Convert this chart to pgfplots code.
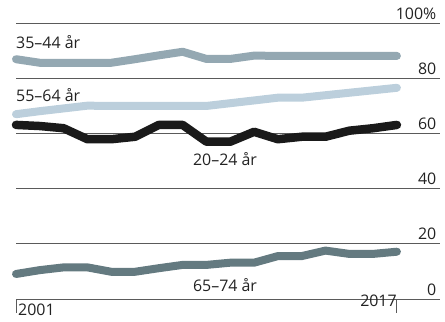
\documentclass[border=0pt]{standalone}
\usepackage{pgfplots}
\pgfplotsset{compat=1.18}
\usepackage{fontspec}
\setmainfont{Open Sans}

\definecolor{txt}{HTML}{222222}
\definecolor{gridc}{HTML}{5A5A5A}
\definecolor{c3544}{RGB}{148,168,178}
\definecolor{c5564}{RGB}{188,207,220}
\definecolor{c2024}{HTML}{1A1A1A}
\definecolor{c6574}{RGB}{100,122,128}

\begin{document}
\begin{tikzpicture}
\begin{axis}[
    scale only axis,
    width=424bp, height=275bp,
    xmin=2001, xmax=2018.81,
    ymin=0, ymax=100,
    axis line style={draw=none},
    font=\fontsize{16}{19}\selectfont\color{txt},
    /pgf/number format/assume math mode=true,
    ytick={0,20,40,60,80,100},
    yticklabels={0,20,40,60,80,100\%},
    yticklabel pos=right,
    ymajorgrids,
    grid style={gridc, line width=1bp},
    y tick style={draw=none},
    yticklabel style={anchor=base east, inner sep=0pt, xshift=-17.5bp, yshift=4bp},
    xtick={2001},
    xticklabels={2001},
    xtick pos=bottom,
    tick align=outside,
    major tick length=14bp,
    x tick style={gridc, line width=1bp},
    xticklabel style={anchor=north west, inner sep=0pt, xshift=2bp, yshift=9bp},
    extra x ticks={2017},
    extra x tick labels={2017},
    extra x tick style={xticklabel style={anchor=north east, inner sep=0pt, xshift=-2bp, yshift=9bp}},
    clip=false,
]
% 35-44 år
\addplot[c3544, line width=8bp, line cap=round, line join=round] coordinates {
 (2001,87.2)(2002,85.9)(2003,85.9)(2004,85.9)(2005,85.9)(2006,87.2)(2007,88.6)(2008,89.9)
 (2009,87.3)(2010,87.3)(2011,88.5)(2012,88.4)(2013,88.4)(2014,88.4)(2015,88.4)(2016,88.4)(2017,88.4)
};
% 55-64 år
\addplot[c5564, line width=8bp, line cap=round, line join=round] coordinates {
 (2001,67.2)(2002,68.3)(2003,69.3)(2004,70.3)(2005,70.2)(2006,70.2)(2007,70.2)(2008,70.2)
 (2009,70.2)(2010,71.2)(2011,72.2)(2012,73.2)(2013,73.2)(2014,74.1)(2015,75.0)(2016,75.9)(2017,76.8)
};
% 20-24 år
\addplot[c2024, line width=8.5bp, line cap=round, line join=round] coordinates {
 (2001,63.3)(2002,62.9)(2003,62.1)(2004,58.1)(2005,58.1)(2006,59.0)(2007,63.3)(2008,63.3)
 (2009,57.2)(2010,57.2)(2011,60.8)(2012,58.1)(2013,59.0)(2014,59.0)(2015,61.2)(2016,62.1)(2017,63.3)
};
% 65-74 år
\addplot[c6574, line width=8bp, line cap=round, line join=round] coordinates {
 (2001,9.1)(2002,10.5)(2003,11.5)(2004,11.5)(2005,9.9)(2006,9.9)(2007,11.2)(2008,12.4)
 (2009,12.4)(2010,13.2)(2011,13.2)(2012,15.6)(2013,15.6)(2014,17.6)(2015,16.4)(2016,16.4)(2017,17.2)
};
\node[anchor=base west, inner sep=0pt] at (axis cs:2001,91.1) {35–44 år};
\node[anchor=base west, inner sep=0pt] at (axis cs:2001,71.8) {55–64 år};
\node[anchor=base, inner sep=0pt] at (axis cs:2009.78,48.7) {20–24 år};
\node[anchor=base, inner sep=0pt] at (axis cs:2009.78,2.65) {65–74 år};
\end{axis}
\pgfresetboundingbox
\path[use as bounding box] (-16bp,-23bp) rectangle (429bp,299bp);
\end{tikzpicture}
\end{document}
